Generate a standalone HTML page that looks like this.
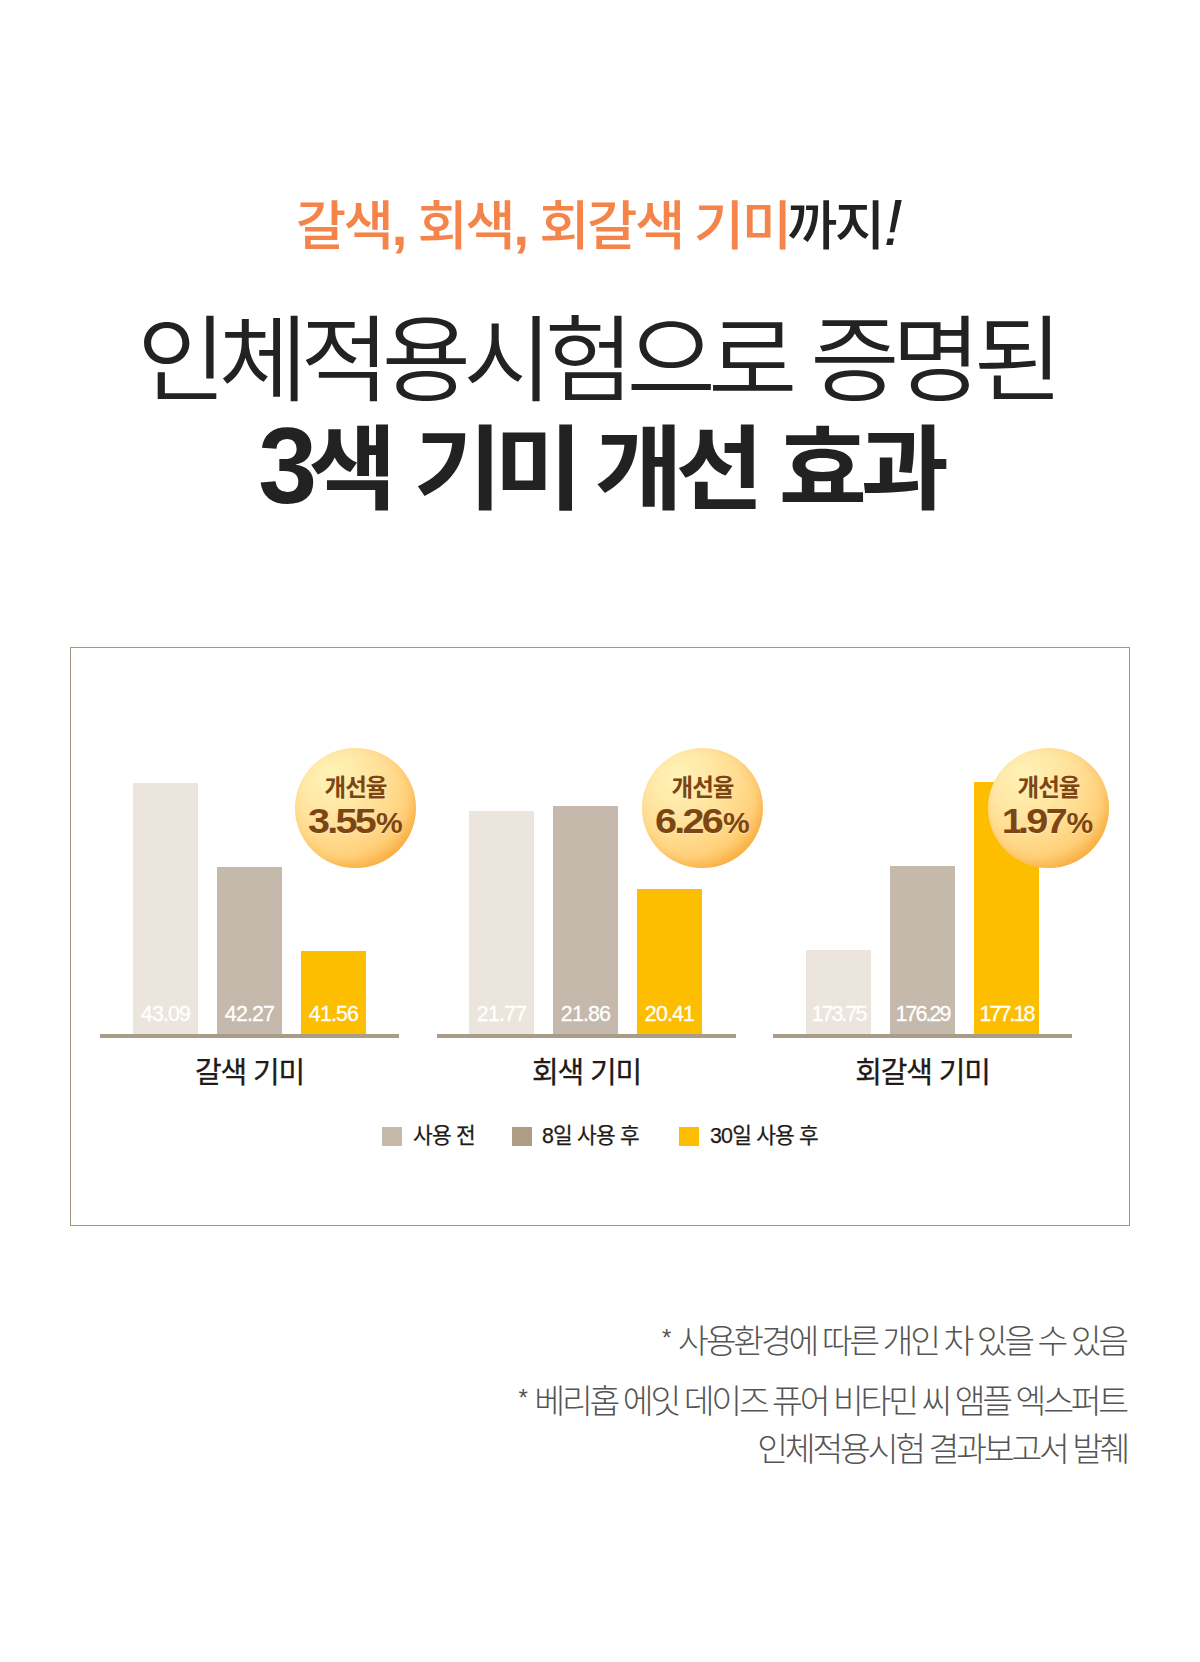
<!DOCTYPE html>
<html lang="ko">
<head>
<meta charset="utf-8">
<title>3색 기미 개선 효과</title>
<style>
*{margin:0;padding:0;box-sizing:border-box}
html,body{width:1200px;height:1662px;background:#fff;overflow:hidden}
body{position:relative;font-family:"Liberation Sans","Noto Sans CJK KR",sans-serif;color:#222}
.abs{position:absolute;white-space:nowrap}
.l1{left:-1px;width:1200px;top:189.5px;text-align:center;font-size:53.2px;line-height:74px;font-weight:500;letter-spacing:-2.5px;color:#f5844a;transform:scaleX(1.03);transform-origin:600px 50%}
.l1 b{font-weight:500;color:#222;margin-left:-2.5px}
.l1 em{font-style:normal;font-weight:700;font-size:56px;line-height:50px}
.l1 u{text-decoration:none;margin-left:-1.5px}
.l1 i{font-style:italic;font-weight:400;color:#222;font-size:65px;line-height:60px;margin-left:1px;letter-spacing:0}
.l2{left:-4px;width:1200px;top:296.7px;text-align:center;font-size:94.5px;line-height:128px;font-weight:350;letter-spacing:-7.6px;word-spacing:1.5px;color:#222;transform:scaleX(1.028);transform-origin:600px 50%}
.l3{left:0px;width:1200px;top:406.3px;text-align:center;font-size:91.7px;line-height:128px;font-weight:700;letter-spacing:-7px;color:#222;transform:scaleX(1.045);transform-origin:600px 50%}
.l3 .d{display:inline-block;font-size:107.5px;line-height:100px;position:relative;top:0.5px;margin-right:-4.8px;transform:scaleX(.94);transform-origin:left bottom}
.l3 .s{margin-right:4.8px}
.box{left:70px;top:647px;width:1060px;height:579px;border:1px solid #a69783}
.bar{position:absolute;width:65px}
.c1{background:#ebe5de}.c2{background:#c4b9aa}.c3{background:#fdbe00}
.bar span{position:absolute;left:-10px;right:-10px;bottom:9.5px;text-align:center;color:#fff;font-size:22px;line-height:22px;letter-spacing:-0.9px;transform:scaleX(.975);-webkit-text-stroke:0.3px #fff}
.bar span.w{letter-spacing:-2px}
.base{position:absolute;height:4px;top:1034px;width:299px;background:#ab9c88}
.cat{top:1052.5px;width:299px;text-align:center;font-size:29px;line-height:40px;letter-spacing:-1.2px;color:#221a17;-webkit-text-stroke:0.3px #221a17}
.badge{position:absolute;width:121px;height:120px;border-radius:50%;top:748px;background:radial-gradient(circle 104px at 30% 24%,#fff3b8 0%,#ffe8a6 30%,#ffdc90 58%,#ffd07a 78%,#fcbc58 92%,#fab145 100%);box-shadow:inset -3px -4px 8px rgba(247,160,40,.35);text-align:center;color:#7d4513}
.badge .t{position:absolute;left:0;right:0;top:24px;font-size:23.5px;line-height:32px;font-weight:700;letter-spacing:-1px;text-shadow:0 1px 0 rgba(255,238,180,.9)}
.badge .n{position:absolute;left:0;right:0;top:53px;font-size:35px;line-height:40px;font-weight:700;letter-spacing:-2.4px;text-shadow:0 1px 1px rgba(255,238,180,.9)}
.badge .n span{display:inline-block;transform:scaleX(1.13);transform-origin:left center;margin-right:7.6px}
.badge .n i{font-style:normal;letter-spacing:-5px;margin-left:-2px}
.badge .n small{font-size:30px;letter-spacing:0;margin-left:1.5px}
.sq{position:absolute;top:1126.5px;width:19.6px;height:19px}
.lg{top:1120px;font-size:21.4px;line-height:32px;letter-spacing:-0.8px;color:#221a17;-webkit-text-stroke:0.25px #221a17}
.fn{right:74px;text-align:right;font-size:33.5px;line-height:44px;font-weight:300;letter-spacing:-3.2px;word-spacing:-0.5px;color:#555}
.fn s{text-decoration:none;font-size:24px;line-height:0;vertical-align:7px;letter-spacing:0;margin-right:1px}
</style>
</head>
<body>
<div class="abs l1">갈색<em>,</em> 회색<em>,</em> 회갈색 <u>기미</u><b>까지</b><i>!</i></div>
<div class="abs l2">인체적용시험으로 증명된</div>
<div class="abs l3"><span class="d">3</span><span class="s">색</span> 기미 개선 <span style="margin-left:3px">효</span><span style="margin-left:1px">과</span></div>

<div class="abs box"></div>

<!-- group 1 -->
<div class="bar c1" style="left:133px;top:783px;height:251px"><span>43.09</span></div>
<div class="bar c2" style="left:217px;top:867px;height:167px"><span>42.27</span></div>
<div class="bar c3" style="left:301px;top:951px;height:83px"><span>41.56</span></div>
<div class="base" style="left:100px"></div>
<div class="abs cat" style="left:100px">갈색 기미</div>
<div class="badge" style="left:295px"><div class="t">개선율</div><div class="n"><span>3.55</span><small>%</small></div></div>

<!-- group 2 -->
<div class="bar c1" style="left:469px;top:811px;height:223px"><span>21.77</span></div>
<div class="bar c2" style="left:553px;top:806px;height:228px"><span>21.86</span></div>
<div class="bar c3" style="left:637px;top:889px;height:145px"><span>20.41</span></div>
<div class="base" style="left:437px"></div>
<div class="abs cat" style="left:437px">회색 기미</div>
<div class="badge" style="left:642px"><div class="t">개선율</div><div class="n"><span>6.26</span><small>%</small></div></div>

<!-- group 3 -->
<div class="bar c1" style="left:806px;top:950px;height:84px"><span class="w">173.75</span></div>
<div class="bar c2" style="left:890px;top:866px;height:168px"><span class="w">176.29</span></div>
<div class="bar c3" style="left:974px;top:782px;height:252px"><span class="w">177.18</span></div>
<div class="base" style="left:773px"></div>
<div class="abs cat" style="left:773px">회갈색 기미</div>
<div class="badge" style="left:988px"><div class="t">개선율</div><div class="n"><span style="margin-right:7px"><i>1</i>.97</span><small>%</small></div></div>

<!-- legend -->
<div class="sq" style="left:382px;background:#c5b9aa"></div>
<div class="abs lg" style="left:413px">사용 전</div>
<div class="sq" style="left:512px;background:#ae9c84"></div>
<div class="abs lg" style="left:542px">8일 사용 후</div>
<div class="sq" style="left:679px;background:#fdbe00"></div>
<div class="abs lg" style="left:710px">30일 사용 후</div>

<!-- footnotes -->
<div class="abs fn" style="top:1320px"><s>*</s> 사용환경에 따른 개인 차 있을 수 있음</div>
<div class="abs fn" style="top:1380px"><s>*</s> 베리홉 에잇 데이즈 퓨어 비타민 씨 앰플 엑스퍼트</div>
<div class="abs fn" style="top:1428px;right:72.5px">인체적용시험 결과보고서 발췌</div>
</body>
</html>
